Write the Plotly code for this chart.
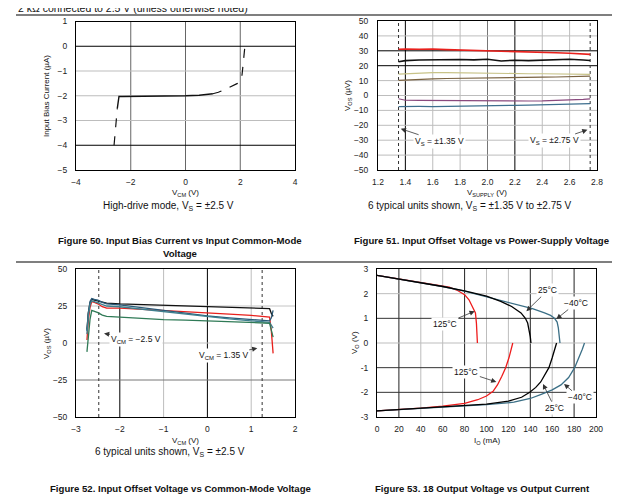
import plotly.graph_objects as go

W, H = 620, 495

# ---- Figure 50: input bias current vs VCM
bias_lo_x = [-2.61, -2.55, -2.49]
bias_lo_y = [-4.0, -3.2, -2.5]
bias_mid_x = [-2.49, -2.43, -2.3, -2.0, -1.5, -1.0, -0.5, 0.0, 0.5, 0.8, 1.0]
bias_mid_y = [-2.5, -2.03, -2.03, -2.03, -2.02, -2.02, -2.01, -2.0, -1.98, -1.95, -1.92]
bias_hi_x = [1.0, 1.2, 1.43, 1.7, 1.9, 2.0, 2.05, 2.08, 2.11, 2.14, 2.17]
bias_hi_y = [-1.92, -1.86, -1.75, -1.62, -1.5, -1.4, -1.3, -1.0, -0.6, -0.2, 0.0]

# ---- Figure 51: VOS vs supply voltage (6 units)
vsup = [1.35, 1.4, 1.5, 1.6, 1.7, 1.8, 1.9, 2.0, 2.1, 2.2, 2.3, 2.4, 2.5, 2.6, 2.7, 2.75]
vos_sup = {
    "red":    [31.0, 31.2, 31.0, 31.2, 30.8, 30.6, 30.4, 30.0, 30.0, 29.7, 29.4, 29.1, 28.7, 28.4, 27.9, 27.6],
    "black":  [22.6, 23.4, 23.8, 24.0, 24.5, 24.2, 23.9, 24.3, 23.2, 23.7, 23.4, 23.7, 24.1, 24.3, 23.8, 23.5],
    "khaki":  [14.3, 14.6, 15.0, 15.3, 15.4, 15.2, 15.0, 14.8, 14.7, 14.6, 14.6, 14.6, 14.5, 14.5, 14.3, 14.2],
    "brown":  [10.2, 10.5, 10.8, 11.2, 11.4, 11.6, 11.8, 11.9, 12.0, 12.1, 12.2, 12.3, 12.4, 12.6, 12.8, 13.0],
    "purple": [-2.2, -3.2, -3.3, -3.4, -3.5, -3.5, -3.6, -3.7, -3.8, -3.8, -3.7, -3.6, -3.4, -3.0, -2.6, -2.3],
    "teal":   [-7.4, -7.3, -7.3, -7.4, -7.2, -7.0, -6.9, -6.8, -6.7, -6.6, -6.5, -6.3, -6.1, -5.9, -5.7, -5.5],
}

# ---- Figure 52: VOS vs VCM (typical units)
vcm = [-2.75, -2.72, -2.68, -2.64, -2.58, -2.5, -2.4, -2.3, -2.0, -1.5, -1.0, -0.5, 0.0, 0.5, 1.0, 1.3, 1.42, 1.46, 1.5]
vos_cm = {
    "black": [9, 20, 27, 29.5, 29, 28.3, 27.5, 27, 26.5, 26, 25.6, 25.1, 24.8, 24.3, 23.8, 23.5, 23.2, 20, 18],
    "red":   [2, 15, 24, 28, 27.5, 26.5, 24.5, 23.5, 23.5, 22.8, 22, 21.2, 20.3, 19.5, 18.6, 18, 17.5, 8, -7],
    "blue":  [8, 20, 28, 30, 29.5, 29, 27.5, 26.5, 25.8, 24, 22, 20, 18.3, 17, 15.8, 15.2, 15, 17, 22],
    "teal":  [6, 18, 26, 28.5, 28, 27.2, 26, 25, 24.5, 22.8, 21, 19.2, 17.6, 16.3, 15, 14.5, 14, 12, 10],
    "green": [-6, 5, 16, 22, 21.5, 20.5, 18.8, 18, 17.5, 16.5, 15.8, 15.4, 15, 14.3, 13.7, 13.5, 13.3, 9, 4],
}

# ---- Figure 53: output voltage vs output current
io_up_125 = [0, 20, 40, 55, 66, 74, 80, 84, 86.2, 88.5, 89.9, 90.8, 91.3, 91.7]
vo_up_125 = [2.74, 2.6, 2.46, 2.34, 2.26, 2.12, 1.96, 1.75, 1.55, 1.35, 1.22, 0.8, 0.4, 0.0]
io_up_25 = [0, 20, 40, 60, 81, 100, 113, 123, 131.5, 135.5, 137.6, 139, 140, 140.6]
vo_up_25 = [2.74, 2.6, 2.45, 2.29, 2.1, 1.9, 1.69, 1.48, 1.22, 1.0, 0.81, 0.55, 0.25, 0.0]
io_up_m40 = [0, 20, 40, 60, 80, 98, 115, 129, 142, 153, 158.5, 162, 164.5, 165.6, 166.5, 167.1]
vo_up_m40 = [2.74, 2.6, 2.45, 2.29, 2.1, 1.89, 1.72, 1.55, 1.39, 1.22, 1.12, 1.01, 0.85, 0.61, 0.3, 0.0]
io_lo_125 = [0, 20, 40, 60, 80, 92, 100, 106, 110, 114, 117.5, 120.5, 122.5, 124]
vo_lo_125 = [-2.75, -2.7, -2.64, -2.56, -2.45, -2.3, -2.15, -1.96, -1.7, -1.35, -1.0, -0.6, -0.3, 0.0]
io_lo_25 = [0, 20, 40, 60, 80, 100, 120, 132, 139.5, 145, 149.5, 153.5, 157, 160, 162.5, 164]
vo_lo_25 = [-2.75, -2.7, -2.66, -2.61, -2.55, -2.48, -2.36, -2.2, -2.0, -1.8, -1.58, -1.3, -1.0, -0.6, -0.25, 0.0]
io_lo_m40 = [0, 20, 40, 60, 80, 100, 125, 140, 150, 160, 168, 175, 180.5, 184.5, 187.5, 189.5]
vo_lo_m40 = [-2.75, -2.7, -2.66, -2.61, -2.55, -2.5, -2.4, -2.25, -2.08, -1.9, -1.7, -1.4, -1.0, -0.6, -0.25, 0.0]

cols = {"red": "#e8201c", "black": "#111111", "khaki": "#c8c388", "brown": "#7a6240",
        "purple": "#8a4a7e", "teal": "#3d6e8e"}
c3 = {"red": "#e8201c", "black": "#111111", "blue": "#2b5a78", "teal": "#3d7f8e", "green": "#2f7a56"}


def px(x):
    return x / W


def py(y):
    return 1 - y / H


FONT = "Liberation Sans, Arial, sans-serif"
fig = go.Figure()

fig.add_trace(go.Scatter(x=bias_lo_x, y=bias_lo_y, mode="lines", line=dict(color="#111", width=1.2, dash="dash"), xaxis="x", yaxis="y"))
fig.add_trace(go.Scatter(x=bias_mid_x, y=bias_mid_y, mode="lines", line=dict(color="#111", width=1.4), xaxis="x", yaxis="y"))
fig.add_trace(go.Scatter(x=bias_hi_x, y=bias_hi_y, mode="lines", line=dict(color="#111", width=1.2, dash="dash"), xaxis="x", yaxis="y"))

for k, v in vos_sup.items():
    fig.add_trace(go.Scatter(x=vsup, y=v, mode="lines", line=dict(color=cols[k], width=1.6 if k in ("red", "black") else 1.2),
                             xaxis="x2", yaxis="y2"))

for k, v in vos_cm.items():
    fig.add_trace(go.Scatter(x=vcm, y=v, mode="lines", line=dict(color=c3[k], width=1.3), xaxis="x3", yaxis="y3"))

for xs, ys, c in [(io_up_125, vo_up_125, "#ee1c1c"), (io_up_m40, vo_up_m40, "#3b6f86"), (io_up_25, vo_up_25, "#000000"),
                  (io_lo_125, vo_lo_125, "#ee1c1c"), (io_lo_m40, vo_lo_m40, "#3b6f86"), (io_lo_25, vo_lo_25, "#000000")]:
    fig.add_trace(go.Scatter(x=xs, y=ys, mode="lines", line=dict(color=c, width=1.3), xaxis="x4", yaxis="y4"))

tickfont = dict(family=FONT, size=8.5, color="#222")


def ax(dom, rng, dtick, anchor, **kw):
    d = dict(domain=dom, range=rng, dtick=dtick, anchor=anchor, showgrid=False, automargin=False,
             zeroline=False, showline=True, linecolor="#000", linewidth=1, mirror=True, ticks="",
             tickfont=tickfont, ticklabelstandoff=4, fixedrange=True)
    d.update(kw)
    return d


fig.update_layout(
    width=W, height=H, margin=dict(l=0, r=0, t=0, b=0, pad=0, autoexpand=False), showlegend=False,
    paper_bgcolor="white", plot_bgcolor="white",
    xaxis=ax([px(68), px(287)], [-4, 4], 2, "y"),
    yaxis=ax([py(162), py(13.5)], [-5, 1], 1, "x", ticklabelstandoff=6),
    xaxis2=ax([px(370), px(589)], [1.2, 2.8], 0.2, "y2", tickformat=".1f"),
    yaxis2=ax([py(162), py(13)], [-50, 50], 10, "x2", ticklabelstandoff=7),
    xaxis3=ax([px(68), px(287)], [-3, 2], 1, "y3"),
    yaxis3=ax([py(409), py(261)], [-50, 50], 25, "x3", ticklabelstandoff=6),
    xaxis4=ax([px(369), px(588)], [0, 200], 20, "y4"),
    yaxis4=ax([py(409), py(261)], [-3, 3], 1, "x4", ticklabelstandoff=6,
              tickvals=[-3, -2, -1, 0, 1, 2, 3], ticktext=["-3", "-2", "-1", "0", "1", "2", "3"]),
)

shapes = []
G = "#bdbdbd"


def vline(xr, yr, x, color, dash="solid", w=1):
    shapes.append(dict(type="line", xref=xr, yref=yr + " domain", x0=x, x1=x, y0=0, y1=1, layer="below",
                       line=dict(color=color, width=w, dash=dash)))


def hline(xr, yr, y, color, w=1):
    shapes.append(dict(type="line", xref=xr + " domain", yref=yr, x0=0, x1=1, y0=y, y1=y, layer="below",
                       line=dict(color=color, width=w)))


# grid lines (some drawn darker, as in the scan)
for x in (-2, 0, 2):
    vline("x", "y", x, "#666")
for y in (-1, -2, -3):
    hline("x", "y", y, G)
for y in (0, -4):
    hline("x", "y", y, "#000")

for x in (1.6, 1.8, 2.4, 2.6):
    vline("x2", "y2", x, G)
vline("x2", "y2", 2.0, "#777")
for x in (1.4, 2.2):
    vline("x2", "y2", x, "#000")
for y in (40, 10, 0, -10, -20, -30, -40):
    hline("x2", "y2", y, G)
for y in (30, 20):
    hline("x2", "y2", y, "#000")
for x in (1.35, 2.75):
    vline("x2", "y2", x, "#333", "dot")

for x in (-1, 1):
    vline("x3", "y3", x, G)
for x in (-2, 0):
    vline("x3", "y3", x, "#000")
for y in (25, 0):
    hline("x3", "y3", y, "#c4c4c4")
hline("x3", "y3", -25, "#777")
for x in (-2.48, 1.25):
    vline("x3", "y3", x, "#333", "dot")

for x in (40, 60, 100, 120, 160):
    vline("x4", "y4", x, G)
for x in (20, 80, 140, 180):
    vline("x4", "y4", x, "#222")
for y in (2, 0):
    hline("x4", "y4", y, G)
for y in (1, -1, -2):
    hline("x4", "y4", y, "#333")

# page rules
for (x0, y0, x1, y1) in [(8, 7, 612, 7), (8, 254, 612, 254), (8, 489, 612, 489), (612, 7, 612, 489)]:
    shapes.append(dict(type="line", xref="paper", yref="paper", x0=px(x0), x1=px(x1), y0=py(y0), y1=py(y1),
                       line=dict(color="#000", width=1.2)))
fig.update_layout(shapes=shapes)

ann = []


def txt(x, y, s, size=8, bold=False, angle=0, xanchor="center"):
    ann.append(dict(x=px(x), y=py(y), xref="paper", yref="paper", text="<b>%s</b>" % s if bold else s,
                    showarrow=False, textangle=angle, xanchor=xanchor, yanchor="middle",
                    font=dict(family=FONT, size=size, color="#111")))


def lab(xr, yr, x, y, tx, ty, s):
    ann.append(dict(x=x, y=y, ax=tx, ay=ty, xref=xr, yref=yr, axref=xr, ayref=yr, text=s,
                    showarrow=True, arrowhead=2, arrowsize=1.3, arrowwidth=0.8, arrowcolor="#333",
                    bgcolor="white", borderpad=1, font=dict(family=FONT, size=8.5, color="#111")))


CAP = 9.6
txt(8, 0, "2 kΩ connected to 2.5 V (unless otherwise noted)", size=10.5, xanchor="left")

txt(38, 88, "Input Bias Current (µA)", angle=-90)
txt(177, 185, "V<sub>CM</sub> (V)")
txt(160, 198, "High-drive mode, V<sub>S</sub> = ±2.5 V", size=10)
txt(172, 232, "Figure 50. Input Bias Current vs Input Common-Mode", size=CAP, bold=True)
txt(172, 245, "Voltage", size=CAP, bold=True)

txt(340, 88, "V<sub>OS</sub> (µV)", angle=-90)
txt(479, 185, "V<sub>SUPPLY</sub> (V)")
txt(462, 198, "6 typical units shown, V<sub>S</sub> = ±1.35 V to ±2.75 V", size=10)
txt(473, 233, "Figure 51. Input Offset Voltage vs Power-Supply Voltage", size=CAP, bold=True)

txt(39, 335, "V<sub>OS</sub> (µV)", angle=-90)
txt(177, 433, "V<sub>CM</sub> (V)")
txt(162, 444, "6 typical units shown, V<sub>S</sub> = ±2.5 V", size=10)
txt(172, 480, "Figure 52. Input Offset Voltage vs Common-Mode Voltage", size=CAP, bold=True)

txt(347, 335, "V<sub>O</sub> (V)", angle=-90)
txt(479, 433, "I<sub>O</sub> (mA)")
txt(474, 480, "Figure 53. 18 Output Voltage vs Output Current", size=CAP, bold=True)

lab("x2", "y2", 1.366, -22.3, 1.65, -31, "V<sub>S</sub> = ±1.35 V")
lab("x2", "y2", 2.73, -23, 2.49, -30.5, "V<sub>S</sub> = ±2.75 V")
lab("x3", "y3", -2.36, 6.5, -1.62, 2.7, "V<sub>CM</sub> = −2.5 V")
lab("x3", "y3", 1.14, -3.5, 0.36, -8.3, "V<sub>CM</sub> = 1.35 V")
lab("x4", "y4", 136.4, 1.29, 156, 2.14, "25°C")
lab("x4", "y4", 163.8, 0.97, 182, 1.62, "−40°C")
lab("x4", "y4", 89.2, 1.29, 62, 0.78, "125°C")
lab("x4", "y4", 109, -1.58, 81.6, -1.18, "125°C")
lab("x4", "y4", 151.6, -1.66, 162.4, -2.64, "25°C")
lab("x4", "y4", 170.8, -1.66, 185, -2.2, "−40°C")

fig.update_layout(annotations=ann)

fig.write_html("out.html")
